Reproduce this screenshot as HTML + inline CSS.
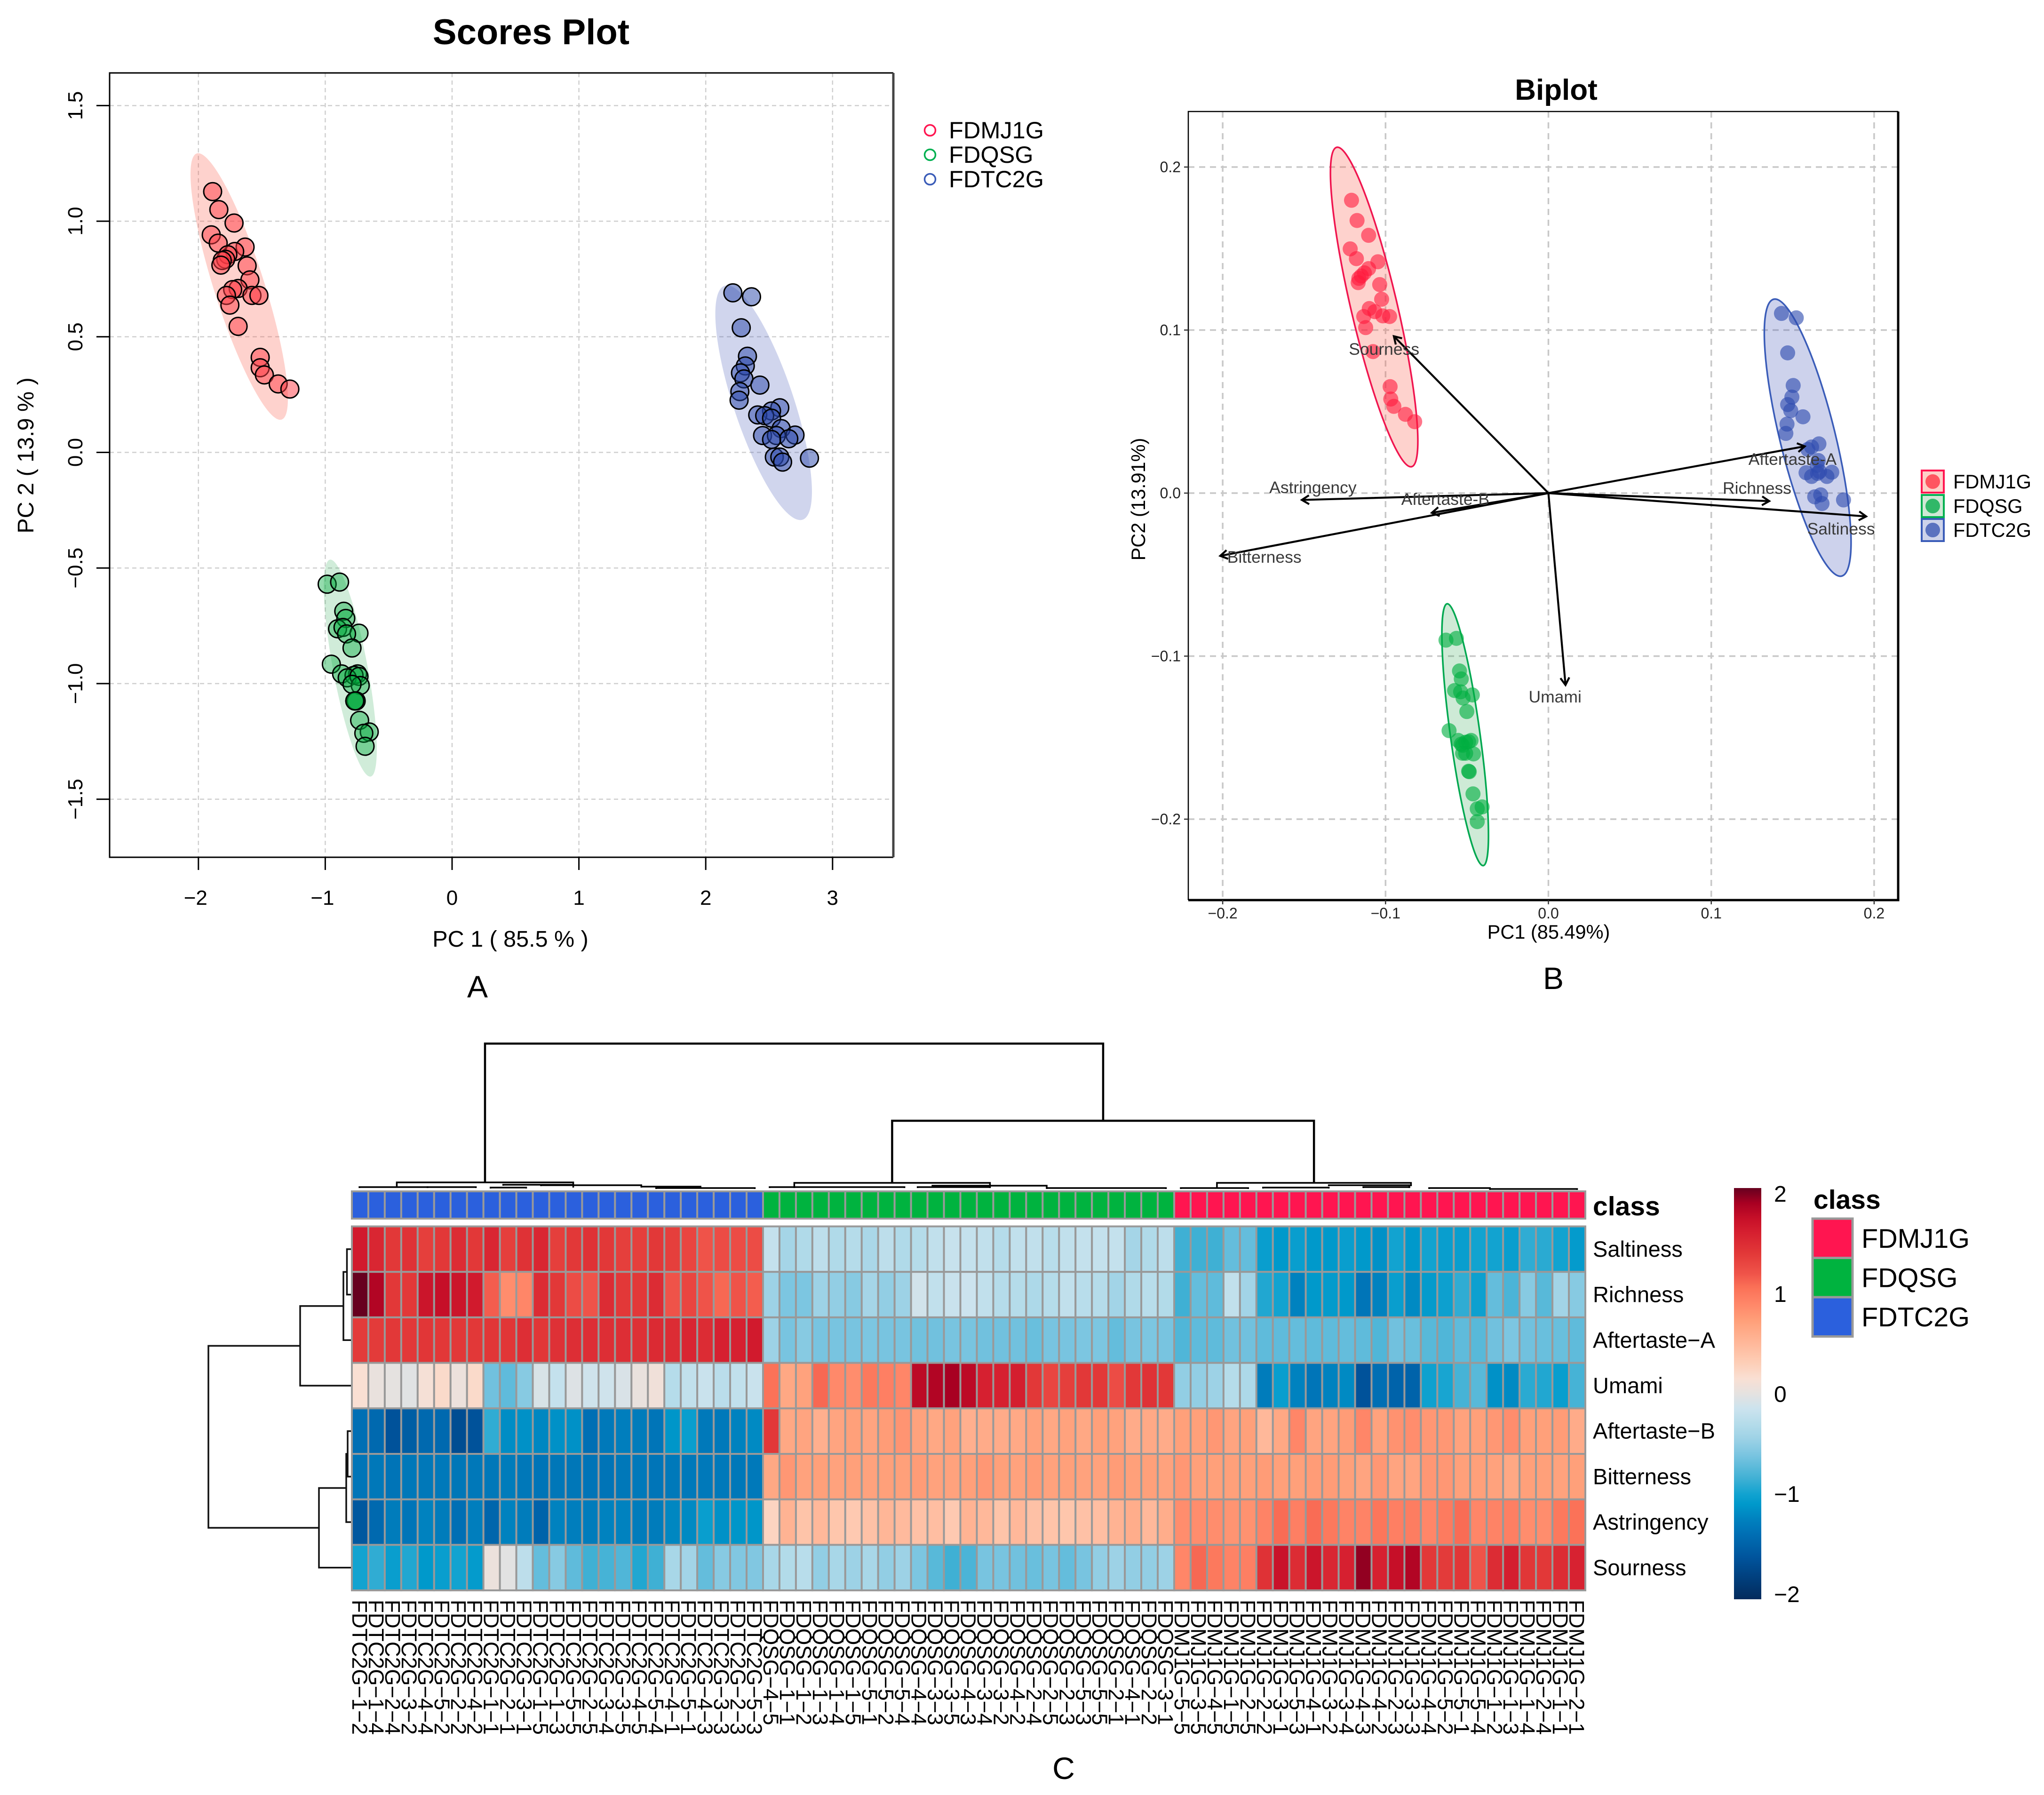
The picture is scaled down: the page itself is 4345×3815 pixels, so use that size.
<!DOCTYPE html>
<html>
<head>
<meta charset="utf-8">
<style>
html,body{margin:0;padding:0;background:#fff;}
svg{display:block;}
text{font-family:"Liberation Sans",Arial,sans-serif;fill:#000;}
</style>
</head>
<body>
<svg id="fig" xmlns="http://www.w3.org/2000/svg" width="4345" height="3815" viewBox="0 0 4345 3815">
<rect x="0" y="0" width="4345" height="3815" fill="#fff"/>
<g id="pa"></g>
<g id="pb"></g>
<g id="pc"></g>
<text x="1015" y="2120" font-size="66" text-anchor="middle">A</text>
<text x="3302" y="2102" font-size="66" text-anchor="middle">B</text>
<text x="2261" y="3781" font-size="66" text-anchor="middle">C</text>
</svg>
<script>
// ---------- Panel A data ----------
const aXTicks=[-2,-1,0,1,2,3];
const aYTicks=[-1.5,-1,-0.5,0,0.5,1,1.5];
const aRedX=[-1.888,-1.839,-1.719,-1.899,-1.844,-1.632,-1.714,-1.768,-1.785,-1.812,-1.823,-1.616,-1.594,-1.687,-1.730,-1.779,-1.578,-1.523,-1.752,-1.687,-1.513,-1.513,-1.480,-1.371,-1.279];
const aRedY=[1.128,1.050,0.992,0.941,0.905,0.888,0.869,0.855,0.835,0.830,0.810,0.807,0.746,0.709,0.704,0.679,0.679,0.679,0.637,0.545,0.411,0.366,0.335,0.296,0.274];
const aGreenX=[-0.985,-0.887,-0.854,-0.838,-0.903,-0.860,-0.734,-0.832,-0.789,-0.952,-0.871,-0.745,-0.773,-0.827,-0.734,-0.724,-0.789,-0.767,-0.756,-0.729,-0.653,-0.696,-0.686,-0.767,-0.767];
const aGreenY=[-0.570,-0.561,-0.687,-0.718,-0.763,-0.757,-0.782,-0.785,-0.846,-0.916,-0.958,-0.958,-0.964,-0.975,-0.969,-1.008,-1.003,-1.075,-1.075,-1.159,-1.209,-1.215,-1.271,-1.075,-1.075];
const aBlueX=[2.214,2.361,2.280,2.329,2.312,2.274,2.301,2.427,2.269,2.263,2.584,2.519,2.410,2.465,2.519,2.595,2.448,2.704,2.557,2.655,2.519,2.541,2.584,2.606,2.818];
const aBlueY=[0.690,0.673,0.539,0.416,0.374,0.344,0.318,0.291,0.263,0.226,0.193,0.179,0.162,0.159,0.148,0.103,0.073,0.075,0.073,0.059,0.056,-0.020,-0.020,-0.042,-0.025];
const classNames=["FDMJ1G","FDQSG","FDTC2G"];
// ellipse: upper tip x,y ; lower tip x,y ; half width (PC1 units)
const aEllRed=[-2.013,1.293,-1.344,0.142,0.198];
const aEllGreen=[-0.963,-0.464,-0.642,-1.402,0.136];
const aEllBlue=[2.149,0.721,2.764,-0.291,0.237];

// ---------- Panel B data ----------
const bXTicks=[-0.2,-0.1,0,0.1,0.2];
const bYTicks=[-0.2,-0.1,0,0.1,0.2];
const bRedX=[-0.1209,-0.1175,-0.1104,-0.1217,-0.1179,-0.1047,-0.1104,-0.1130,-0.1149,-0.1164,-0.1168,-0.1036,-0.1024,-0.1100,-0.1066,-0.1134,-0.1017,-0.0975,-0.1122,-0.1077,-0.0972,-0.0968,-0.0949,-0.0878,-0.0821];
const bRedY=[0.1796,0.1672,0.1581,0.1498,0.1438,0.1419,0.1377,0.1351,0.1332,0.1317,0.1291,0.1279,0.1189,0.1132,0.1113,0.1083,0.1087,0.1083,0.1015,0.0868,0.0653,0.0577,0.0532,0.0483,0.0438];
const bGreenX=[-0.0629,-0.0565,-0.0546,-0.0535,-0.0576,-0.0539,-0.0467,-0.0524,-0.0501,-0.0610,-0.0554,-0.0475,-0.0490,-0.0527,-0.0508,-0.0460,-0.0508,-0.0490,-0.0486,-0.0463,-0.0407,-0.0437,-0.0437,-0.0535,-0.0527];
const bGreenY=[-0.0902,-0.0891,-0.1091,-0.1140,-0.1211,-0.1219,-0.1238,-0.1257,-0.1340,-0.1457,-0.1517,-0.1517,-0.1525,-0.1547,-0.1528,-0.1600,-0.1596,-0.1706,-0.1709,-0.1845,-0.1925,-0.1936,-0.2015,-0.1540,-0.1596];
const bBlueX=[0.1431,0.1522,0.1469,0.1503,0.1495,0.1469,0.1488,0.1563,0.1465,0.1458,0.1661,0.1616,0.1593,0.1657,0.1582,0.1740,0.1653,0.1616,0.1710,0.1665,0.1635,0.1672,0.1680,0.1812,0.1650];
const bBlueY=[0.1102,0.1075,0.0860,0.0660,0.0589,0.0543,0.0506,0.0468,0.0423,0.0366,0.0302,0.0283,0.0268,0.0200,0.0125,0.0128,0.0121,0.0102,0.0102,0.0132,-0.0023,-0.0011,-0.0064,-0.0042,0.0170];
const bEllRed=[-0.130,0.2121,-0.084,0.0162,0.0142];
const bEllGreen=[-0.0622,-0.0679,-0.0400,-0.2285,0.0091];
const bEllBlue=[0.1383,0.1189,0.1801,-0.0509,0.0170];
const loadNames=["Sourness","Astringency","Aftertaste-B","Bitterness","Aftertaste-A","Richness","Saltiness","Umami"];
const loadX=[-0.0949,-0.1514,-0.0716,-0.2015,0.1574,0.1356,0.1951,0.0105];
const loadY=[0.0962,-0.0042,-0.0121,-0.0385,0.0287,-0.0049,-0.0143,-0.1177];
const loadLabelX=[-0.1009,-0.1446,-0.0633,-0.1744,0.1499,0.1281,0.1797,0.0041];
const loadLabelY=[0.0883,0.0034,-0.0038,-0.0392,0.0208,0.0030,-0.0219,-0.1249];

// ---------- Panel C data ----------
const rowNames=["Saltiness","Richness","Aftertaste\u2212A","Umami","Aftertaste\u2212B","Bitterness","Astringency","Sourness"];
const saltiness=[1.65,1.55,1.4,1.45,1.35,1.4,1.5,1.4,1.55,1.35,1.45,1.55,1.35,1.4,1.45,1.4,1.35,1.35,1.4,1.35,1.3,1.2,1.25,1.25,1.25,
-.2,-.4,-.33,-.25,-.33,-.3,-.37,-.25,-.33,-.3,-.22,-.18,-.2,-.22,-.3,-.22,-.22,-.28,-.22,-.2,-.2,-.2,-.4,-.33,-.25,
-.85,-.85,-.85,-.7,-.7,-1.05,-1.1,-1.05,-1.1,-1.1,-1.05,-1.1,-1.15,-1.0,-1.1,-1.0,-1.05,-1.05,-1.0,-1.0,-1.05,-.9,-.92,-1.0,-1.08];
const richness=[2.05,1.85,1.4,1.4,1.7,1.75,1.7,1.65,1.15,.85,.9,1.5,1.4,1.25,1.2,1.5,1.4,1.4,1.5,1.2,1.3,1.2,1.1,1.2,1.15,
-.45,-.6,-.6,-.45,-.5,-.55,-.4,-.5,-.45,-.12,-.22,-.17,-.15,-.22,-.3,-.3,-.35,-.3,-.22,-.28,-.3,-.42,-.33,-.28,-.32,
-.85,-.7,-.72,-.22,-.42,-.95,-1,-1.25,-1.1,-1.08,-1.1,-1.35,-1.25,-1.05,-1.2,-1.08,-1.03,-.9,-1.03,-.7,-.8,-.55,-.75,-.42,-.55];
const aftertasteA=[1.38,1.38,1.4,1.4,1.42,1.4,1.4,1.4,1.42,1.42,1.48,1.42,1.46,1.48,1.48,1.48,1.48,1.46,1.52,1.5,1.56,1.5,1.6,1.6,1.65,
-.45,-.62,-.55,-.62,-.62,-.62,-.6,-.62,-.62,-.65,-.65,-.62,-.62,-.65,-.65,-.65,-.68,-.62,-.62,-.6,-.6,-.7,-.62,-.6,-.62,
-.78,-.72,-.72,-.65,-.65,-.72,-.72,-.7,-.72,-.72,-.7,-.72,-.78,-.65,-.68,-.75,-.78,-.72,-.75,-.65,-.6,-.65,-.68,-.68,-.72];
const umami=[.15,.03,0,-.03,.12,.2,.05,.2,-.65,-.72,-.55,-.08,-.2,-.05,-.13,-.13,-.07,.03,.08,-.3,-.22,-.17,-.27,-.22,-.17,
1.05,.65,.7,1.1,.88,.85,1.0,.95,.9,1.8,1.85,1.9,1.8,1.6,1.6,1.62,1.4,1.3,1.35,1.4,1.4,1.25,1.4,1.45,1.4,
-.5,-.5,-.45,-.3,-.35,-1.3,-1.05,-1.25,-1.35,-1.25,-1.2,-1.65,-1.4,-1.5,-1.5,-1.02,-.98,-.82,-.75,-1.15,-1.2,-.92,-.95,-1.05,-.82];
const aftertasteB=[-1.4,-1.45,-1.65,-1.55,-1.45,-1.45,-1.7,-1.65,-.9,-1.18,-1.15,-1.22,-1.15,-1.15,-1.4,-1.32,-1.28,-1.3,-1.35,-1.12,-1.05,-1.32,-1.32,-1.25,-1.2,
1.4,.65,.68,.58,.68,.72,.68,.75,.8,.7,.65,.7,.58,.62,.62,.64,.7,.65,.7,.65,.72,.7,.62,.64,.62,
.72,.72,.78,.68,.72,.5,.65,.9,.68,.68,.75,.9,.7,.82,.85,.78,.78,.7,.72,.78,.85,.72,.72,.75,.62];
const bitterness=[-1.35,-1.33,-1.36,-1.33,-1.33,-1.32,-1.34,-1.33,-1.33,-1.3,-1.33,-1.36,-1.34,-1.34,-1.36,-1.36,-1.33,-1.32,-1.35,-1.32,-1.32,-1.32,-1.32,-1.33,-1.32,
.65,.78,.7,.72,.7,.72,.7,.72,.72,.75,.7,.7,.72,.78,.72,.7,.75,.7,.72,.7,.7,.75,.72,.72,.7,
.78,.72,.72,.72,.72,.75,.72,.72,.75,.75,.72,.68,.78,.68,.68,.78,.78,.72,.72,.7,.65,.72,.72,.7,.72];
const astringency=[-1.6,-1.45,-1.3,-1.35,-1.25,-1.3,-1.4,-1.28,-1.48,-1.25,-1.3,-1.5,-1.25,-1.28,-1.3,-1.25,-1.25,-1.3,-1.3,-1.22,-1.2,-1.05,-1.15,-1.12,-1.12,
.25,.55,.4,.5,.38,.35,.42,.52,.48,.42,.45,.35,.55,.5,.4,.5,.42,.4,.38,.42,.45,.55,.6,.5,.6,
.85,.85,.85,.8,.82,.92,1.08,.95,1.08,1.0,.92,.92,1.02,.95,.97,.9,.98,1.08,.9,.92,.95,.85,.85,1.0,1.05];
const sourness=[-1,-.9,-1.05,-.95,-1.1,-1.05,-1.0,-1.08,.05,-.02,-.25,-.7,-.55,-.72,-.85,-.82,-.78,-.95,-.85,-.38,-.42,-.7,-.55,-.58,-.58,
-.38,-.32,-.28,-.5,-.38,-.45,-.38,-.5,-.45,-.6,-.75,-.85,-.8,-.62,-.62,-.65,-.68,-.62,-.7,-.62,-.5,-.45,-.5,-.5,-.45,
.9,1.1,1.0,.92,.95,1.45,1.72,1.5,1.7,1.55,1.6,1.95,1.6,1.75,1.85,1.4,1.38,1.42,1.2,1.5,1.62,1.42,1.4,1.5,1.58];
const colorbarTicks=[2,1,0,-1,-2];
const colStem=["FDTC2G","FDQSG","FDMJ1G"];
const colDigitA=[1,1,2,3,4,5,2,4,1,2,3,1,1,5,2,3,3,4,5,4,5,4,3,2,5,
4,1,1,1,1,1,5,5,5,4,3,3,4,3,3,4,2,2,2,5,5,2,4,2,3,
5,3,4,1,2,2,3,5,4,3,3,4,4,2,3,4,5,5,5,1,1,1,2,1,2];
const colDigitB=[2,4,4,2,4,2,2,2,1,1,1,5,3,5,5,4,5,5,4,1,1,3,3,3,3,
5,1,2,3,4,5,1,2,4,4,3,5,3,4,2,2,4,5,3,3,5,1,1,2,1,
5,5,5,5,5,2,1,3,1,2,4,3,2,3,3,4,2,1,4,2,3,4,4,1,1];
// top tree merges: left col, right col, height, left child height, right child height
const topMerges=[[8.095,45.68,313,18,149],[32.85,58.5,149,17,17],
[2.73,13.46,18,8,13],[0.46,4.6,8,6,6],[4.6,7.54,8,6,6],[8.43,10.6,7,5,5],[9.2,13.46,13,11,7],[11.5,17.6,12,10,9],[17.6,21.2,9,7,7],[18.5,24.5,6,4,4],
[26.9,38.8,17,8,8],[25.4,26.9,8,6,6],[26.9,33.6,8,6,6],[34.4,38.8,8,6,6],[35.3,42.25,11,9,6],[42.25,49.5,6,4,4],
[52.6,64.4,17,6,10],[50.4,54.5,6,4,4],[55.4,59.4,7,5,5],[59.4,64.3,12,10,8],[61.5,64.3,8,6,6],[65.5,69.2,6,4,4],[69.2,74.5,4,2,2]];
// row tree merges: row position a, row position b, height, child height a, child height b
const rowMerges=[[0,1,10.5,0,0],[0.5,2,18,10.5,0],[1.25,3,110,18,0],[4,5,9,0,0],[4.5,6,12,9,0],[5.25,7,70,12,0],[2.125,6.125,305,110,70]];

// ---------- helpers ----------
const NS="http://www.w3.org/2000/svg";
function mk(tag,parent,attrs,txt){const e=document.createElementNS(NS,tag);for(const k in attrs)e.setAttribute(k,attrs[k]);if(txt!==undefined)e.textContent=txt;parent.appendChild(e);return e;}
function minus(s){return String(s).replace('-','\u2212');}
function ell(parent,p,sx,sy,hwScale,fill,stroke,sw){
  const x1=sx(p[0]),y1=sy(p[1]),x2=sx(p[2]),y2=sy(p[3]);
  const cx=(x1+x2)/2,cy=(y1+y2)/2,a=Math.hypot(x2-x1,y2-y1)/2;
  const ang=Math.atan2(y2-y1,x2-x1)*180/Math.PI;
  return mk('ellipse',parent,{cx:cx,cy:cy,rx:a,ry:p[4]*hwScale,transform:`rotate(${ang} ${cx} ${cy})`,fill:fill,stroke:stroke,'stroke-width':sw});
}

// ---------- Panel A ----------
(function(){
const g=document.getElementById('pa');
const ax=v=>961+269.6*v, ay=v=>961.5-491.4*v;
const L=233,R=1899,T=155,B=1822;
const title=mk('text',g,{x:1129,y:94,'font-size':76,'font-weight':'bold','text-anchor':'middle'},'Scores Plot');


aXTicks.forEach(v=>{
  const gl=mk('line',g,{x1:ax(v),x2:ax(v),y1:T,y2:B,stroke:'#cfcfcf','stroke-width':2.5,'stroke-dasharray':'9 7'});
  
  
});
aYTicks.forEach(v=>{
  const gl=mk('line',g,{x1:L,x2:R,y1:ay(v),y2:ay(v),stroke:'#cfcfcf','stroke-width':2.5,'stroke-dasharray':'9 7'});
  
  
});
const ells=[[aEllRed,'rgba(250,90,70,.27)','ellipse-fdmj1g'],[aEllGreen,'rgba(40,170,80,.22)','ellipse-fdqsg'],[aEllBlue,'rgba(60,80,180,.24)','ellipse-fdtc2g']];
ells.forEach(c=>{
  const e=ell(g,c[0],ax,ay,269.6,c[1],'none',0);
  
  
});
const ser=[[aRedX,aRedY,'rgba(255,60,70,.5)','point-fdmj1g'],[aGreenX,aGreenY,'rgba(0,170,60,.42)','point-fdqsg'],[aBlueX,aBlueY,'rgba(40,70,170,.5)','point-fdtc2g']];
ser.forEach(s=>{
  s[0].forEach((x,i)=>{
    const c=mk('circle',g,{cx:ax(x),cy:ay(s[1][i]),r:19,fill:s[2],stroke:'#000','stroke-width':3});
    
    
  });
});
const frame=mk('path',g,{d:`M${R} ${T}H${L}V${B}H${R}`,fill:'none',stroke:'#000','stroke-width':3});


const rb=mk('line',g,{x1:R,x2:R,y1:T,y2:B,stroke:'#444','stroke-width':5});


aXTicks.forEach(v=>{
  const t=mk('line',g,{x1:ax(v),x2:ax(v),y1:B,y2:B+27,stroke:'#000','stroke-width':3});
  
  
  const l=mk('text',g,{x:ax(v)-(v<0?6:0),y:1923,'font-size':44,'text-anchor':'middle'},minus(v));
  
  
});
aYTicks.forEach(v=>{
  const t=mk('line',g,{x1:L-28,x2:L,y1:ay(v),y2:ay(v),stroke:'#000','stroke-width':3});
  
  
  const l=mk('text',g,{x:175,y:ay(v),'font-size':44,'text-anchor':'middle',transform:`rotate(-90 175 ${ay(v)})`},minus(v.toFixed(1)));
  
  
});
const xt=mk('text',g,{x:1085,y:2012,'font-size':48.5,'text-anchor':'middle'},'PC 1 ( 85.5 % )');


const yt=mk('text',g,{x:71,y:968,'font-size':48.5,'text-anchor':'middle',transform:'rotate(-90 71 968)'},'PC 2 ( 13.9 % )');


const legY=[277,329,381], legC=['#ff1550','#00b050','#3a5cb8'];
classNames.forEach((n,i)=>{
  const c=mk('circle',g,{cx:1977,cy:legY[i],r:11.5,fill:'none',stroke:legC[i],'stroke-width':3.5});
  
  
  const t=mk('text',g,{x:2017,y:legY[i]+17,'font-size':50.5},n);
  
  
});
})();

// ---------- Panel B ----------
(function(){
const g=document.getElementById('pb');
const bx=v=>3291.5+3462*v, by=v=>1048-3465*v;
const L=2526,R=4035,T=237,B=1913;
const title=mk('text',g,{x:3308,y:212,'font-size':62,'font-weight':'bold','text-anchor':'middle'},'Biplot');


bXTicks.forEach(v=>{
  const gl=mk('line',g,{x1:bx(v),x2:bx(v),y1:T,y2:B,stroke:'#c8c8c8','stroke-width':3.5,'stroke-dasharray':'13 10'});
  
  
});
bYTicks.forEach(v=>{
  const gl=mk('line',g,{x1:L,x2:R,y1:by(v),y2:by(v),stroke:'#c8c8c8','stroke-width':3.5,'stroke-dasharray':'13 10'});
  
  
});
const ells=[[bEllRed,'rgba(250,90,70,.27)','#f0154f','ellipse-fdmj1g'],[bEllGreen,'rgba(30,160,70,.22)','#00a850','ellipse-fdqsg'],[bEllBlue,'rgba(60,80,180,.26)','#3a5cb8','ellipse-fdtc2g']];
ells.forEach(c=>{
  const e=ell(g,c[0],bx,by,3462,c[1],c[2],3.5);
  
  
});
const ser=[[bRedX,bRedY,'rgba(255,25,60,.6)','point-fdmj1g'],[bGreenX,bGreenY,'rgba(0,175,65,.62)','point-fdqsg'],[bBlueX,bBlueY,'rgba(45,75,175,.62)','point-fdtc2g']];
ser.forEach(s=>{
  s[0].forEach((x,i)=>{
    const c=mk('circle',g,{cx:bx(x),cy:by(s[1][i]),r:16,fill:s[2]});
    
    
  });
});
loadNames.forEach((n,i)=>{
  const x0=bx(0),y0=by(0),x1=bx(loadX[i]),y1=by(loadY[i]);
  const ang=Math.atan2(y1-y0,x1-x0),h=18,w=0.55;
  const d=`M${x0} ${y0}L${x1} ${y1}M${x1-h*Math.cos(ang-w)} ${y1-h*Math.sin(ang-w)}L${x1} ${y1}L${x1-h*Math.cos(ang+w)} ${y1-h*Math.sin(ang+w)}`;
  const a=mk('path',g,{d:d,fill:'none',stroke:'#000','stroke-width':4.2});
  
  
});
loadNames.forEach((n,i)=>{
  const t=mk('text',g,{x:bx(loadLabelX[i]),y:by(loadLabelY[i])+12,'font-size':35.5,'text-anchor':'middle',style:'fill:#3a3a3a'},n);
  
  
});
const frame=mk('path',g,{d:`M${L} ${B}V${T}H${R}`,fill:'none',stroke:'#000','stroke-width':2.5});


const frame2=mk('path',g,{d:`M${L} ${B}H${R}V${T}`,fill:'none',stroke:'#000','stroke-width':5});


bXTicks.forEach(v=>{
  const t=mk('line',g,{x1:bx(v),x2:bx(v),y1:B,y2:B+9,stroke:'#333','stroke-width':2.5});
  
  
  const l=mk('text',g,{x:bx(v),y:1952,'font-size':32,'text-anchor':'middle',style:'fill:#222'},minus(v.toFixed(1)));
  
  
});
bYTicks.forEach(v=>{
  const t=mk('line',g,{x1:L-9,x2:L,y1:by(v),y2:by(v),stroke:'#333','stroke-width':2.5});
  
  
  const l=mk('text',g,{x:2510,y:by(v)+11,'font-size':32,'text-anchor':'end',style:'fill:#222'},minus(v.toFixed(1)));
  
  
});
const xt=mk('text',g,{x:3292,y:1995,'font-size':41.5,'text-anchor':'middle'},'PC1 (85.49%)');


const yt=mk('text',g,{x:2434,y:1061,'font-size':41.5,'text-anchor':'middle',transform:'rotate(-90 2434 1061)'},'PC2 (13.91%)');


const legY=[1000,1052,1103],legC=['#ff1550','#00b050','#3a5cb8'],legF=['#fdd0c8','#cfe8d5','#cdd3ea'],legD=['#ff5560','#30b868','#5a72bf'];
classNames.forEach((n,i)=>{
  const b=mk('rect',g,{x:4085,y:legY[i],width:47,height:47,fill:legF[i],stroke:legC[i],'stroke-width':4});
  
  
  const c=mk('circle',g,{cx:4108.5,cy:legY[i]+23.5,r:15.5,fill:legD[i]});
  
  
  const t=mk('text',g,{x:4152,y:legY[i]+38,'font-size':41.5},n);
  
  
});
})();

// ---------- Panel C ----------
(function(){
const g=document.getElementById('pc');
const matrix=[saltiness,richness,aftertasteA,umami,aftertasteB,bitterness,astringency,sourness];
const L=748,CW=34.96,T=2606.5,RH=96.7;
const cx=c=>L+c*CW, ry=r=>T+RH*r;
const ramp=[[-2.05,'#022a5c'],[-1.65,'#00529a'],[-1.4,'#006fb4'],[-1.25,'#0082bf'],[-1.1,'#0099cb'],[-1.0,'#12a3d0'],[-.85,'#3fb0d4'],[-.62,'#78c4e0'],[-.45,'#9dd2e6'],[-.3,'#b5dcea'],[-.15,'#cce3ee'],[0,'#e5e2e0'],[.15,'#f9dfd3'],[.3,'#fdcfb8'],[.5,'#ffb89a'],[.72,'#ffa07a'],[.9,'#ff8668'],[1.05,'#fb7258'],[1.2,'#ef5349'],[1.4,'#e23838'],[1.6,'#d62030'],[1.75,'#c60f28'],[1.9,'#a80022'],[2.05,'#67001f']];
function hex(h){return [1,3,5].map(i=>parseInt(h.substr(i,2),16));}
function color(v){
  if(v<=ramp[0][0])return ramp[0][1];
  for(let i=1;i<ramp.length;i++){
    if(v<=ramp[i][0]){
      const t=(v-ramp[i-1][0])/(ramp[i][0]-ramp[i-1][0]),a=hex(ramp[i-1][1]),b=hex(ramp[i][1]);
      return 'rgb('+a.map((q,k)=>Math.round(q+(b[k]-q)*t)).join(',')+')';
    }
  }
  return ramp[ramp.length-1][1];
}
// top dendrogram
const ty=h=>2531-h;
topMerges.forEach(m=>{
  const d=`M${cx(m[0])} ${ty(m[3])}V${ty(m[2])}H${cx(m[1])}V${ty(m[4])}`;
  const p=mk('path',g,{d:d,fill:'none',stroke:'#000','stroke-width':m[2]>100?4.5:3.5});
  
  
});
// row dendrogram
const rc=p=>ry(p+0.5), rx=h=>L-h;
rowMerges.forEach(m=>{
  const d=`M${rx(m[3])} ${rc(m[0])}H${rx(m[2])}V${rc(m[1])}H${rx(m[4])}`;
  const p=mk('path',g,{d:d,fill:'none',stroke:'#111','stroke-width':3.5});
  
  
});
// annotation bar
const classColor=['#2b60dd','#00b33f','#ff1550'];
for(let c=0;c<75;c++){
  const r=mk('rect',g,{x:cx(c),y:2532,width:CW,height:58,fill:classColor[Math.floor(c/25)],stroke:'#999','stroke-width':4});
  
  
}
// heat cells
matrix.forEach((row,r)=>{
  row.forEach((v,c)=>{
    const e=mk('rect',g,{x:cx(c),y:ry(r),width:CW,height:RH,fill:color(v),stroke:'#999','stroke-width':4});
    
    
  });
});
// column labels
const colFs=45.7;
for(let c=0;c<75;c++){
  const name=colStem[Math.floor(c/25)]+'\u2212'+colDigitA[c]+'\u2212'+colDigitB[c];
  const bx=cx(c+.5)-colFs*0.36;
  const t=mk('text',g,{x:bx,y:3400,'font-size':colFs,transform:`rotate(90 ${bx} 3400)`},name);
  
  
}
// row labels
rowNames.forEach((n,r)=>{
  const t=mk('text',g,{x:3386,y:ry(r+.5)+16,'font-size':47},n);
  
  
});
const cl=mk('text',g,{x:3386,y:2583,'font-size':57,'font-weight':'bold'},'class');


// colour bar
const defs=mk('defs',g,{});
const grad=mk('linearGradient',defs,{id:'cbar',x1:0,y1:1,x2:0,y2:0});
ramp.forEach(s=>{mk('stop',grad,{offset:((s[0]+2.05)/4.1),'stop-color':s[1]});});
const cb=mk('rect',g,{x:3686,y:2525,width:58,height:874,fill:'url(#cbar)'});


colorbarTicks.forEach(v=>{
  const t=mk('text',g,{x:3771,y:2962.5-v*212.7+17,'font-size':48},minus(v));
  
  
});
// class legend
const lt=mk('text',g,{x:3855,y:2569,'font-size':57,'font-weight':'bold'},'class');


const legColor=['#ff1550','#00b33f','#2b60dd'];
classNames.forEach((n,i)=>{
  const y=2590+i*83.5;
  const r=mk('rect',g,{x:3853,y:y,width:85,height:83.5,fill:legColor[i],stroke:'#999','stroke-width':5});
  
  
  const t=mk('text',g,{x:3957,y:y+62,'font-size':57.5},n);
  
  
});
})();
</script>
</body>
</html>
